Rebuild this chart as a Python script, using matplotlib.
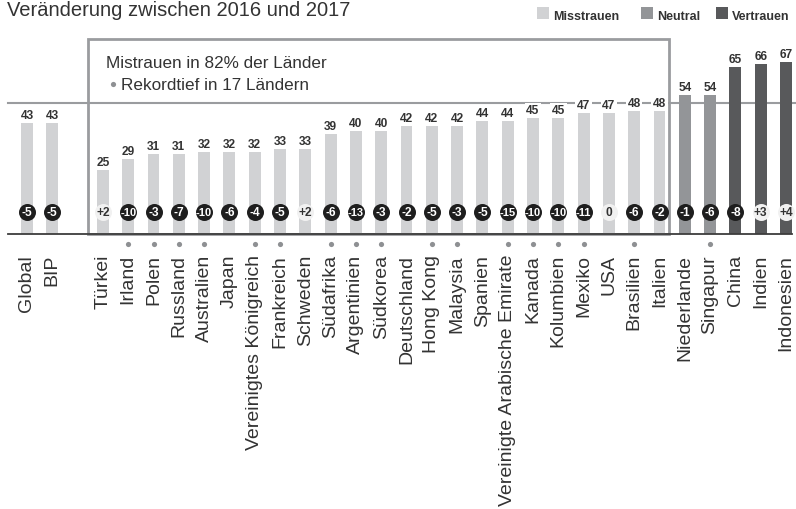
import numpy as np
import matplotlib.pyplot as plt
from matplotlib.patches import Rectangle

# Daten
names = ['Global', 'BIP', 'Türkei', 'Irland', 'Polen', 'Russland', 'Australien', 'Japan',
         'Vereinigtes Königreich', 'Frankreich', 'Schweden', 'Südafrika', 'Argentinien',
         'Südkorea', 'Deutschland', 'Hong Kong', 'Malaysia', 'Spanien',
         'Vereinigte Arabische Emirate', 'Kanada', 'Kolumbien', 'Mexiko', 'USA',
         'Brasilien', 'Italien', 'Niederlande', 'Singapur', 'China', 'Indien', 'Indonesien']
trust = [43, 43, 25, 29, 31, 31, 32, 32, 32, 33, 33, 39, 40, 40, 42, 42, 42, 44, 44,
         45, 45, 47, 47, 48, 48, 54, 54, 65, 66, 67]
change = [-5, -5, 2, -10, -3, -7, -10, -6, -4, -5, 2, -6, -13, -3, -2, -5, -3, -5, -15,
          -10, -10, -11, 0, -6, -2, -1, -6, -8, 3, 4]
category = ['Misstrauen'] * 25 + ['Neutral'] * 2 + ['Vertrauen'] * 3
record_low = ['Irland', 'Polen', 'Russland', 'Australien', 'Vereinigtes Königreich',
              'Frankreich', 'Südafrika', 'Argentinien', 'Südkorea', 'Hong Kong', 'Malaysia',
              'Vereinigte Arabische Emirate', 'Kanada', 'Kolumbien', 'Mexiko', 'Brasilien',
              'Singapur']
legend_labels = ['Misstrauen', 'Neutral', 'Vertrauen']
ref_level = 51

colors = {'Misstrauen': '#d1d2d4', 'Neutral': '#939598', 'Vertrauen': '#58595b'}
gray = '#9a9c9f'
txt = '#333333'

REG = ['Liberation Sans', 'DejaVu Sans']
BOLD = ['Liberation Sans', 'DejaVu Sans']

W, H = 796, 510
X0, S = 27, 25.3      # px der ersten Säule, px pro Slot
Y0, K = 235, 2.57     # px der Grundlinie, px pro Prozentpunkt

def px_x(p):
    return (p - X0) / S

def px_y(p):
    return (Y0 - p) / K

pos = np.array([0, 1] + list(range(3, 3 + len(names) - 2)))

fig = plt.figure(figsize=(W / 100, H / 100), dpi=100)
ax = fig.add_axes([0, 0, 1, 1])
ax.set_xlim(px_x(0), px_x(W))
ax.set_ylim(px_y(H), px_y(0))
ax.axis('off')

# Referenzlinie und Box
ax.plot([px_x(8), px_x(W)], [ref_level, ref_level], color=gray, lw=1.5, zorder=1)
ax.add_patch(Rectangle((px_x(87.5), 0), px_x(669) - px_x(87.5), px_y(40),
                       fill=False, ec=gray, lw=2, zorder=2))

# Säulen
ax.bar(pos, trust, width=0.47, color=[colors[c] for c in category], zorder=3)
ax.plot([px_x(8), px_x(792)], [0, 0], color='#3d3d3d', lw=1.3, zorder=4)

for x, v in zip(pos, trust):
    ax.text(x, v + 5 / K, str(v), ha='center', va='baseline', fontsize=8.6,
            fontweight='bold', family=BOLD, color=txt, zorder=5,
            bbox=dict(fc='white', ec='none', pad=1.2))

# Veränderung
by = px_y(213)
for x, c in zip(pos, change):
    neg = c < 0
    ax.scatter(x, by, s=150, color='#1e1e1e' if neg else '#f1f1f1', zorder=5, lw=0)
    lab = str(c) if c <= 0 else '+%d' % c
    ax.text(x, by, lab, ha='center', va='center', fontsize=8 if abs(c) >= 10 else 8.6,
            fontweight='bold', family=BOLD, color='white' if neg else txt, zorder=6)

# Länderbeschriftung und Rekordtief-Punkte
for x, n in zip(pos, names):
    ax.text(x, px_y(255), n, rotation=90, ha='center', va='top', fontsize=14,
            family=REG, color=txt)
    if n in record_low:
        ax.scatter(x, px_y(245), s=14, color='#8e9093', lw=0, zorder=5)

# Texte in der Box
ax.text(px_x(106), px_y(68), 'Mistrauen in 82% der Länder', fontsize=12.3, family=REG,
        color=txt, va='baseline')
ax.scatter(px_x(113), px_y(85), s=14, color='#8e9093', lw=0)
ax.text(px_x(121), px_y(90), 'Rekordtief in 17 Ländern', fontsize=12.3, family=REG,
        color=txt, va='baseline')

# Titel
ax.text(px_x(7), px_y(16), 'Veränderung zwischen 2016 und 2017', fontsize=14.5,
        family=REG, color=txt, va='baseline')

# Legende
for lab, sx in zip(legend_labels, [537, 641, 716]):
    ax.add_patch(Rectangle((px_x(sx), px_y(20)), 12 / S, 12 / K, color=colors[lab], lw=0))
    ax.text(px_x(sx + 16), px_y(20), lab, fontsize=9, fontweight='bold', family=BOLD,
            color=txt, va='baseline')

fig.savefig('out.png', dpi=100)
